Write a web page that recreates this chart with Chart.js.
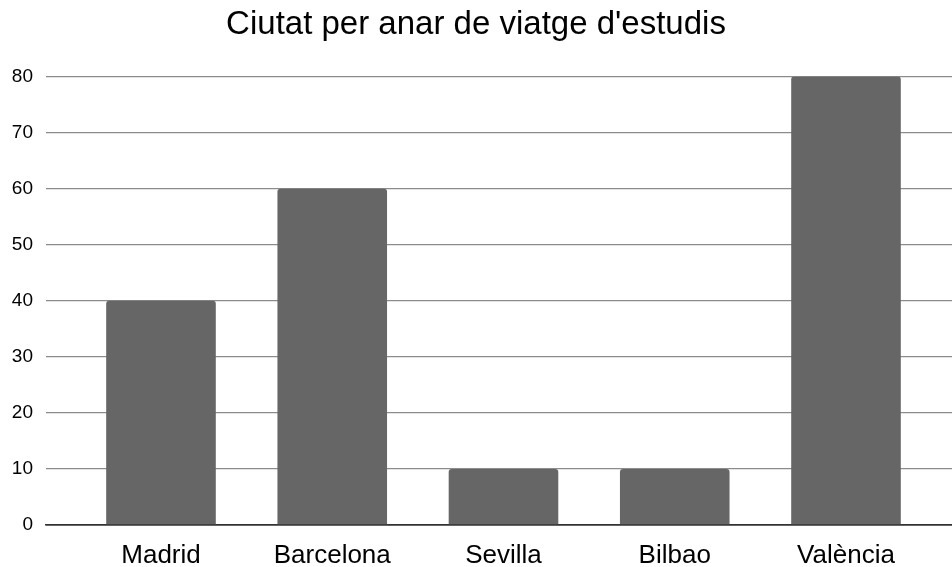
<!DOCTYPE html>
<html>
<head>
<meta charset="utf-8">
<script src="https://cdn.jsdelivr.net/npm/chart.js@4"></script>
<style>
  html, body { margin: 0; padding: 0; background: #fff; }
  #wrap { width: 952px; height: 567px; }
</style>
</head>
<body>
<div id="wrap"><canvas id="canvas"></canvas></div>
<script>
// data
var cities = ['Madrid', 'Barcelona', 'Sevilla', 'Bilbao', 'València'];
var votes = [40, 60, 10, 10, 80];
var yTicks = [0, 10, 20, 30, 40, 50, 60, 70, 80];

var ctx = document.getElementById('canvas').getContext('2d');
var chart = new Chart(ctx, {
    type: 'bar',
    data: {
        datasets: [{
            data: votes.map(function(v, i) { return { x: i, y: v }; }),
            backgroundColor: '#666666',
            borderRadius: { topLeft: 3, topRight: 3, bottomLeft: 0, bottomRight: 0 },
            borderSkipped: false,
            barPercentage: 0.64,
            categoryPercentage: 1
        }]
    },
    options: {
        responsive: true,
        maintainAspectRatio: false,
        animation: false,
        layout: { padding: { left: 0, right: 0, top: 5, bottom: 0 } },
        plugins: {
            legend: { display: false },
            tooltip: { enabled: false },
            title: {
                display: true,
                text: "Ciutat per anar de viatge d'estudis",
                color: '#000',
                font: { family: 'Liberation Sans, Arial, sans-serif', size: 33, weight: 'normal' },
                padding: { top: 0, bottom: 32 }
            }
        },
        scales: {
            x: {
                type: 'linear',
                offset: false,
                min: -0.6715,
                max: 4.619,
                grid: { display: false, drawTicks: false },
                border: { display: true, color: '#333', width: 1.5 },
                afterBuildTicks: function(scale) {
                    scale.ticks = cities.map(function(c, i) { return { value: i }; });
                },
                afterFit: function(scale) { scale.height = 42; },
                ticks: {
                    color: '#000',
                    padding: 15,
                    font: { family: 'Liberation Sans, Arial, sans-serif', size: 26 },
                    callback: function(value) { return cities[value]; }
                }
            },
            y: {
                min: 0,
                max: 80,
                afterBuildTicks: function(scale) {
                    scale.ticks = yTicks.map(function(t) { return { value: t }; });
                },
                afterFit: function(scale) { scale.width = 46; },
                grid: {
                    drawTicks: false,
                    color: function(c) { return c.tick && c.tick.value === 0 ? '#333' : '#8c8c8c'; },
                    lineWidth: function(c) { return c.tick && c.tick.value === 0 ? 1.5 : 1.2; }
                },
                border: { display: false },
                ticks: {
                    color: '#000',
                    padding: 13,
                    font: { family: 'Liberation Sans, Arial, sans-serif', size: 19 }
                }
            }
        }
    }
});
</script>
</body>
</html>
